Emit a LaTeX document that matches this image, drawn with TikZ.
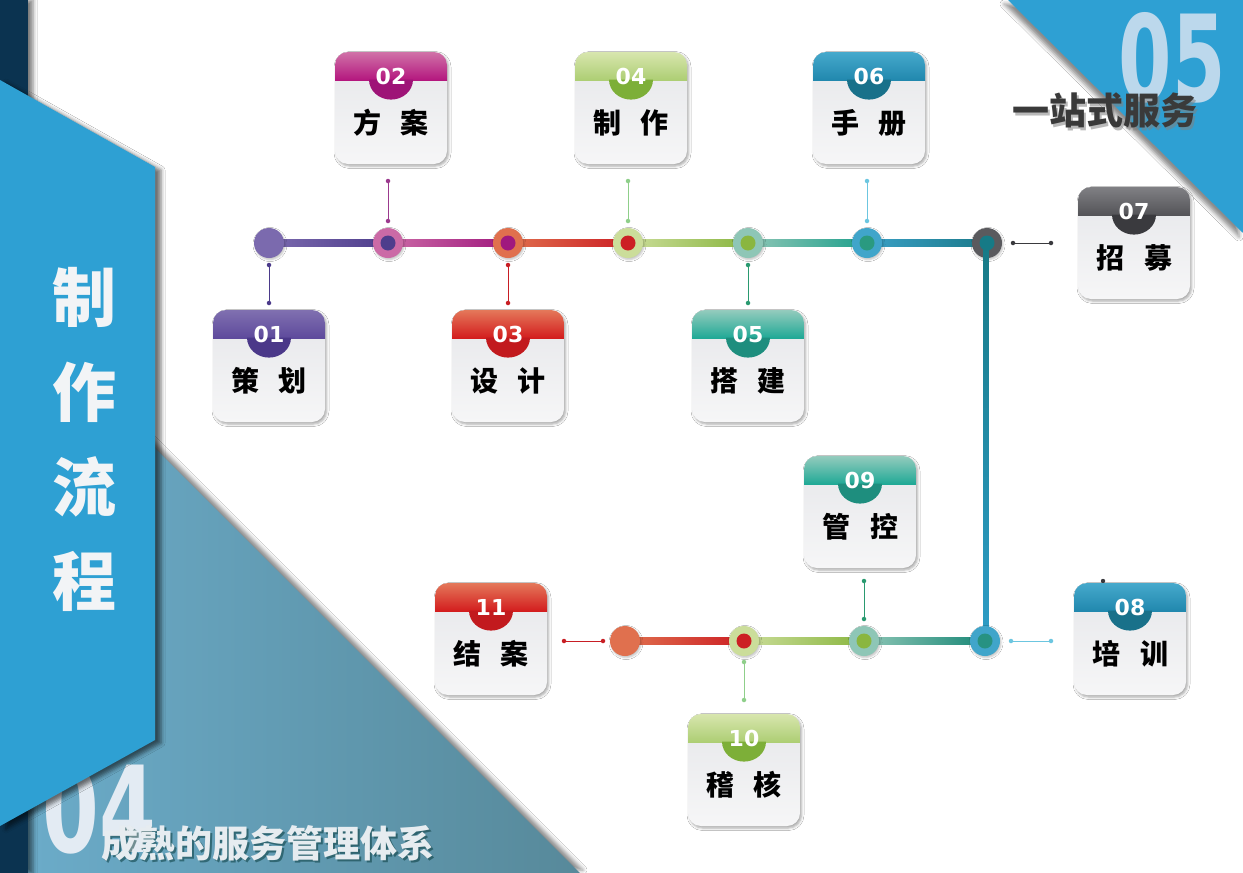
\documentclass[tikz,border=0pt]{standalone}
\usepackage{fontspec}
\newfontfamily\cjk{Noto Sans CJK SC}
\newfontfamily\numfont{DejaVu Sans}
\usetikzlibrary{calc,shadows.blur}
\definecolor{navy}{HTML}{0B3350}
\definecolor{panelblue}{HTML}{2EA0D3}
\definecolor{triL}{HTML}{6CADCB}
\definecolor{triR}{HTML}{57899A}
\definecolor{bigfive}{HTML}{BCD8EC}
\definecolor{bigfour}{HTML}{E3EBF3}
\definecolor{cardtop}{HTML}{E6E7EA}
\definecolor{cardbot}{HTML}{F6F6F7}
\definecolor{purA}{HTML}{8070B0}\definecolor{purB}{HTML}{5E4A9C}\definecolor{purT}{HTML}{4B3889}
\definecolor{magA}{HTML}{D072A8}\definecolor{magB}{HTML}{B4177E}\definecolor{magT}{HTML}{9E1477}
\definecolor{redA}{HTML}{E4785A}\definecolor{redB}{HTML}{D31D1E}\definecolor{redT}{HTML}{C21A1E}
\definecolor{grnA}{HTML}{D8E6AE}\definecolor{grnB}{HTML}{ADCE74}\definecolor{grnT}{HTML}{7DAF38}
\definecolor{tealA}{HTML}{94CBBD}\definecolor{tealB}{HTML}{20A996}\definecolor{tealT}{HTML}{1E8E7E}
\definecolor{bluA}{HTML}{46A9CC}\definecolor{bluB}{HTML}{2188AE}\definecolor{bluT}{HTML}{19718A}
\definecolor{gryA}{HTML}{808084}\definecolor{gryB}{HTML}{545458}\definecolor{gryT}{HTML}{3A3A3E}
\definecolor{lnPurA}{HTML}{7B6AAE}\definecolor{lnPurB}{HTML}{4E3D8C}
\definecolor{lnMagA}{HTML}{CB6AA6}\definecolor{lnMagB}{HTML}{A0197E}
\definecolor{lnRedA}{HTML}{E0704E}\definecolor{lnRedB}{HTML}{CC1F24}
\definecolor{lnGrnA}{HTML}{CBDD9A}\definecolor{lnGrnB}{HTML}{8AB640}
\definecolor{lnTealA}{HTML}{8EC6B6}\definecolor{lnTealB}{HTML}{1FA08C}
\definecolor{lnBluA}{HTML}{3AA0C6}\definecolor{lnBluB}{HTML}{1B7A8A}
\definecolor{lnVertA}{HTML}{177A86}\definecolor{lnVertB}{HTML}{2E9DC6}
\definecolor{ringBlue}{HTML}{40A5CA}
\definecolor{ringGray}{HTML}{5A5A5E}
\definecolor{dotTeal}{HTML}{2A9A80}
\definecolor{dotTealD}{HTML}{167A86}
\definecolor{dotTealB}{HTML}{279282}
\definecolor{stPur}{HTML}{4B3A8A}
\definecolor{stMag}{HTML}{9B3A8E}
\definecolor{stRed}{HTML}{C81E24}
\definecolor{stGrn}{HTML}{8FCF8A}
\definecolor{stTeal}{HTML}{2A9A70}
\definecolor{stBlu}{HTML}{6CC6E0}
\definecolor{stGry}{HTML}{3A3A3E}
\definecolor{slogan}{HTML}{3A3A3A}
\definecolor{subtxt}{HTML}{E6ECF0}
\definecolor{titletxt}{HTML}{F2F4F6}
\tikzset{
  cardbody/.style={rectangle, minimum width=112pt, minimum height=112pt, inner sep=0pt, outer sep=0pt,
    rounded corners=13pt, top color=cardtop, bottom color=cardbot,
    blur shadow={shadow xshift=1.5pt, shadow yshift=-2pt, shadow blur radius=2.5pt, shadow opacity=35}},
  numtext/.style={font=\numfont\bfseries\fontsize{22}{22}\selectfont, text=white, inner sep=0pt},
  labtext/.style={font=\cjk\bfseries\fontsize{28}{28}\selectfont, text=black, inner sep=0pt},
  tlring/.style={circle, fill=#1, minimum size=30pt, inner sep=0pt, outer sep=0pt,
    blur shadow={shadow xshift=1pt, shadow yshift=-1.5pt, shadow blur radius=2pt, shadow opacity=25}},
  tldot/.style={circle, fill=#1, minimum size=15pt, inner sep=0pt, outer sep=0pt},
  stubdot/.style={circle, fill=#1, minimum size=4.5pt, inner sep=0pt},
  stubline/.style={draw=#1, line width=0.9pt},
  bigtitle/.style={font=\cjk\bfseries\fontsize{64}{64}\selectfont, text=titletxt, inner sep=0pt},
  subtitle/.style={font=\cjk\bfseries\fontsize{37}{37}\selectfont, inner sep=0pt},
  bignum/.style={font=\numfont\bfseries\fontsize{120}{120}\selectfont, inner sep=0pt},
}
\newcommand\mkcard[8]{%
  \node[cardbody] (#1) at (#2,#3+56) {};
  \begin{scope}
    \clip[rounded corners=13pt] (#1.south west) rectangle (#1.north east);
    \shade[top color=#6, bottom color=#7] (#1.north west) rectangle ($(#1.north east)+(0,-28pt)$);
  \end{scope}
  \fill[#8] ($(#1.north)+(-22pt,-27.6pt)$) arc[start angle=180,end angle=360,x radius=22pt,y radius=20pt] -- cycle;
  \node[numtext] (#1n) at ($(#1.north)+(0,-24pt)$) {#4};
  \node[labtext] (#1t) at ($(#1.north)+(0,-71pt)$) {#5};
}
\newcommand\mkstub[4]{%
  \node[stubdot=#2] (#1a) at (#3) {};
  \node[stubdot=#2] (#1b) at (#4) {};
  \draw[stubline=#2] (#1a) -- (#1b);
}
\begin{document}
\begin{tikzpicture}[x=1pt,y=-1pt]
\useasboundingbox (0,0) rectangle (1243,873);
\fill[white] (0,0) rectangle (1243,873);
% bottom-left teal triangle
\shade[left color=triL, right color=triR,
  blur shadow={shadow xshift=3pt, shadow yshift=3pt, shadow blur radius=4pt, shadow opacity=45}]
  (0,293) -- (580,873) -- (0,873) -- cycle;
% navy strip
\fill[navy, blur shadow={shadow xshift=5pt, shadow yshift=0pt, shadow blur radius=4pt, shadow opacity=50}]
  (0,0) rectangle (28,873);
% big 04
\node[bignum, text=bigfour] (num04) at (99.5,809) {\scalebox{0.68}[1]{04}};
% blue side panel
\fill[panelblue, blur shadow={shadow xshift=6pt, shadow yshift=-3pt, shadow blur radius=4pt, shadow opacity=55}]
  (0,80) -- (155,167) -- (155,740) -- (0,826) -- cycle;
% top-right triangle
\fill[panelblue, blur shadow={shadow xshift=-4pt, shadow yshift=-4pt, shadow blur radius=4pt, shadow opacity=45}]
  (1008,0) -- (1243,0) -- (1243,233) -- cycle;
\node[bignum, text=bigfive] (num05) at (1172,58) {\scalebox{0.64}[1]{05}};
% slogan with its shadow
\node[subtitle, text=gray, opacity=0.55] (sloganshadow) at (1107,113) {一站式服务};
\node[subtitle, text=slogan] (slogan) at (1104.5,110.5) {一站式服务};
% bottom subtitle with its shadow
\node[subtitle, text=black!60!teal, opacity=0.5] (subshadow) at (270,845.5) {成熟的服务管理体系};
\node[subtitle, text=subtxt] (sub) at (268,843) {成熟的服务管理体系};
% vertical title
\foreach \ch [count=\i] in {制,作,流,程}{
  \node[bigtitle] (title\i) at (84,202.8+94.7*\i) {\ch};
}
% timeline coordinates
\coordinate (p1) at (269,243);
\coordinate (p2) at (388,243);
\coordinate (p3) at (508,243);
\coordinate (p4) at (628,243);
\coordinate (p5) at (748,243);
\coordinate (p6) at (867,243);
\coordinate (p7) at (987,243);
\coordinate (p8) at (985,641);
\coordinate (p9) at (864,641);
\coordinate (p10) at (744,641);
\coordinate (p11) at (625,641);
% horizontal segments
\shade[left color=lnPurA, right color=lnPurB] ($(p1)+(0,3.5pt)$) rectangle ($(p2)+(0,-3.5pt)$);
\shade[left color=lnMagA, right color=lnMagB] ($(p2)+(0,3.5pt)$) rectangle ($(p3)+(0,-3.5pt)$);
\shade[left color=lnRedA, right color=lnRedB] ($(p3)+(0,3.5pt)$) rectangle ($(p4)+(0,-3.5pt)$);
\shade[left color=lnGrnA, right color=lnGrnB] ($(p4)+(0,3.5pt)$) rectangle ($(p5)+(0,-3.5pt)$);
\shade[left color=lnTealA, right color=lnTealB] ($(p5)+(0,3.5pt)$) rectangle ($(p6)+(0,-3.5pt)$);
\shade[left color=lnBluA, right color=lnBluB] ($(p6)+(0,3.5pt)$) rectangle ($(p7)+(0,-3.5pt)$);
\shade[left color=lnTealA, right color=lnTealB!85!black] ($(p9)+(0,3.5pt)$) rectangle ($(p8)+(0,-3.5pt)$);
\shade[left color=lnGrnA, right color=lnGrnB] ($(p10)+(0,3.5pt)$) rectangle ($(p9)+(0,-3.5pt)$);
\shade[left color=lnRedA, right color=lnRedB] ($(p11)+(0,3.5pt)$) rectangle ($(p10)+(0,-3.5pt)$);
% rings
\node[tlring=lnPurA] (r1) at (p1) {};
\node[tlring=lnMagA] (r2) at (p2) {};
\node[tlring=lnRedA] (r3) at (p3) {};
\node[tlring=lnGrnA] (r4) at (p4) {};
\node[tlring=lnTealA] (r5) at (p5) {};
\node[tlring=ringBlue] (r6) at (p6) {};
\node[tlring=ringGray] (r7) at (p7) {};
\shade[top color=lnVertA, bottom color=lnVertB] ($(p7)+(-3.5pt,0)$) rectangle ($(p8)+(3.5pt,0)$);
\node[tlring=ringBlue] (r8) at (p8) {};
\node[tlring=lnTealA] (r9) at (p9) {};
\node[tlring=lnGrnA] (r10) at (p10) {};
\node[tlring=lnRedA] (r11) at (p11) {};
% inner dots
\node[tldot=lnPurB] (d2) at (p2) {};
\node[tldot=lnMagB] (d3) at (p3) {};
\node[tldot=lnRedB] (d4) at (p4) {};
\node[tldot=lnGrnB] (d5) at (p5) {};
\node[tldot=dotTeal] (d6) at (p6) {};
\node[tldot=dotTealD] (d7) at (p7) {};
\node[tldot=dotTealB] (d8) at (p8) {};
\node[tldot=lnGrnB] (d9) at (p9) {};
\node[tldot=lnRedB] (d10) at (p10) {};
% stubs
\mkstub{s1}{stPur}{269,265}{269,303}
\mkstub{s2}{stMag}{388,181}{388,221}
\mkstub{s3}{stRed}{508,265}{508,303}
\mkstub{s4}{stGrn}{628,181}{628,221}
\mkstub{s5}{stTeal}{748,265}{748,303}
\mkstub{s6}{stBlu}{867,181}{867,221}
\mkstub{s7}{stGry}{1013,243}{1051,243}
\mkstub{s8}{stBlu}{1011,641}{1051,641}
\mkstub{s9}{stTeal}{864,581}{864,619}
\mkstub{s10}{stGrn}{744,662}{744,700}
\mkstub{s11}{stRed}{564,641}{603,641}
\fill[stGry] (1103,581) circle[radius=2.2pt];
% cards
\mkcard{c01}{269}{310}{01}{策\hspace{20pt}划}{purA}{purB}{purT}
\mkcard{c02}{391}{52}{02}{方\hspace{20pt}案}{magA}{magB}{magT}
\mkcard{c03}{508}{310}{03}{设\hspace{20pt}计}{redA}{redB}{redT}
\mkcard{c04}{631}{52}{04}{制\hspace{20pt}作}{grnA}{grnB}{grnT}
\mkcard{c05}{748}{310}{05}{搭\hspace{20pt}建}{tealA}{tealB}{tealT}
\mkcard{c06}{869}{52}{06}{手\hspace{20pt}册}{bluA}{bluB}{bluT}
\mkcard{c07}{1134}{187}{07}{招\hspace{20pt}募}{gryA}{gryB}{gryT}
\mkcard{c08}{1130}{583}{08}{培\hspace{20pt}训}{bluA}{bluB}{bluT}
\mkcard{c09}{860}{456}{09}{管\hspace{20pt}控}{tealA}{tealB}{tealT}
\mkcard{c10}{744}{714}{10}{稽\hspace{20pt}核}{grnA}{grnB}{grnT}
\mkcard{c11}{491}{583}{11}{结\hspace{20pt}案}{redA}{redB}{redT}
\end{tikzpicture}
\end{document}
